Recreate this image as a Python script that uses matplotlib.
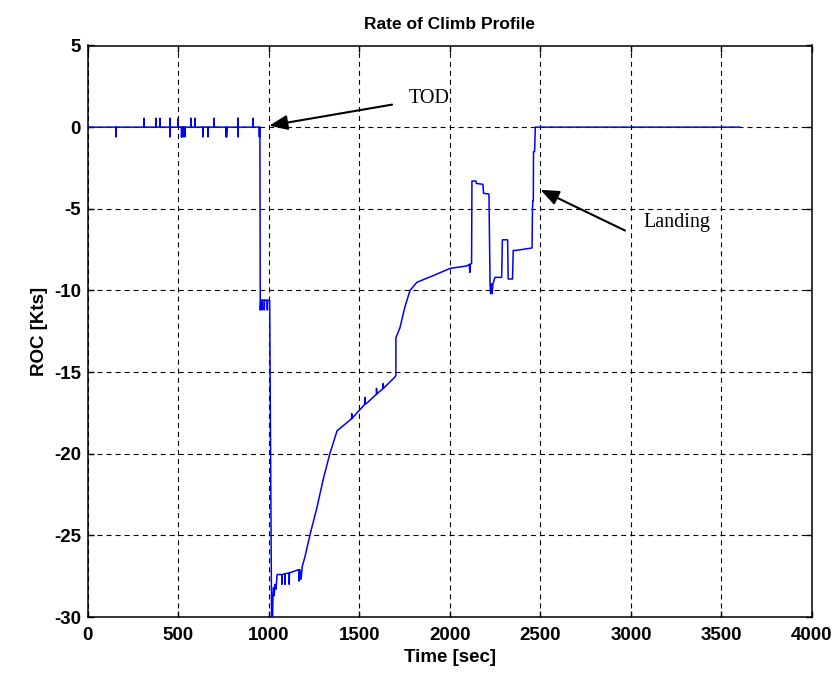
import matplotlib
matplotlib.use('Agg')
import matplotlib.pyplot as plt

plt.rcParams['lines.scale_dashes'] = False
plt.rcParams['axes.unicode_minus'] = False

# ---- data ----
time_sec = [
    0, 156, 156, 157, 311, 311, 312, 377, 377, 378, 399, 399, 400,
    454, 454, 455, 456, 499, 499, 500, 517, 518, 521, 521, 523, 529, 529, 531,
    537, 537, 539, 570, 570, 571, 593, 593, 594, 637, 637, 638, 664, 664, 665,
    697, 697, 698, 764, 764, 767, 767, 768, 830, 830, 830, 831, 913, 913, 914,
    947, 948, 949, 951, 953, 956, 962, 962, 964, 975, 975, 977, 990, 992, 994,
    1005, 1008, 1016, 1020, 1023, 1026, 1030, 1034, 1040, 1046, 1072, 1072, 1073,
    1090, 1090, 1091, 1113, 1113, 1114, 1165, 1168, 1172, 1178, 1185, 1200, 1229,
    1266, 1300, 1338, 1377, 1458, 1458, 1459, 1487, 1532, 1532, 1533, 1542, 1595,
    1595, 1596, 1631, 1632, 1633, 1697, 1702, 1702, 1724, 1752, 1780, 1818, 1907,
    2001, 2094, 2108, 2110, 2112, 2120, 2122, 2144, 2146, 2183, 2186, 2216, 2222,
    2225, 2230, 2234, 2238, 2249, 2286, 2290, 2319, 2322, 2346, 2350, 2365, 2454,
    2456, 2458, 2461, 2462, 2468, 2472, 3600]
roc_kts = [
    0, 0, -0.6, 0, 0, 0.55, 0, 0, 0.55, 0, 0, 0.55, 0,
    0, -0.6, 0.55, 0, 0, 0.55, 0, 0, -0.6, 0, -0.6, 0, 0, -0.6, 0,
    0, -0.6, 0, 0, 0.55, 0, 0, 0.55, 0, 0, -0.6, 0, 0, -0.6, 0,
    0, 0.55, 0, 0, -0.6, 0, -0.6, 0, 0, 0.55, -0.6, 0, 0, 0.55, 0,
    0, -0.6, 0, 0, -11.2, -10.6, -10.6, -11.2, -10.6, -10.6, -11.2, -10.6, -10.6, -11.2, -10.6,
    -10.6, -16.0, -31.0, -31.0, -28.7, -28.2, -28.7, -28.0, -28.3, -27.4, -27.4, -28.0, -27.4,
    -27.35, -28.0, -27.35, -27.3, -28.0, -27.3, -27.1, -27.8, -27.1, -27.7, -26.9, -26.3, -24.9,
    -23.3, -21.6, -19.97, -18.6, -17.85, -17.55, -17.85, -17.5, -16.95, -16.55, -16.95, -16.9, -16.35,
    -16.0, -16.35, -16.0, -15.7, -16.0, -15.3, -15.2, -12.9, -12.3, -11.0, -10.0, -9.5, -9.1,
    -8.65, -8.5, -8.4, -8.9, -8.4, -8.35, -3.3, -3.3, -3.45, -3.5, -4.05, -4.1, -9.6,
    -10.2, -9.6, -10.2, -9.6, -9.2, -9.2, -6.9, -6.9, -9.3, -9.3, -7.55, -7.55, -7.4,
    -5.3, -4.5, -4.5, -1.5, -1.5, 0, 0]

x_ticks = [0, 500, 1000, 1500, 2000, 2500, 3000, 3500, 4000]
y_ticks = [-30, -25, -20, -15, -10, -5, 0, 5]

chart_title = 'Rate of Climb Profile'
x_label = 'Time [sec]'
y_label = 'ROC [Kts]'

tod_label = 'TOD'
tod_text_pos = (1771, 1.46)
tod_tail = (1681, 1.38)
tod_head = (1003, 0.09)

landing_label = 'Landing'
landing_text_pos = (3067, -6.13)
landing_tail = (2967, -6.33)
landing_head = (2501, -3.84)

# ---- figure ----
W, H = 839, 679
fig = plt.figure(figsize=(W / 100, H / 100), dpi=100)
left, right, top, bottom = 87.7, 812.0, 45.5, 617.0
ax = fig.add_axes([left / W, 1 - bottom / H, (right - left) / W, (bottom - top) / H])

ax.plot(time_sec, roc_kts, color='#0000ff', lw=1.1, zorder=3)
ax.set_xlim(0, 4000)
ax.set_ylim(-30, 5)
ax.set_xticks(x_ticks)
ax.set_yticks(y_ticks)

ax.grid(True, color='black', linestyle=(0, (3.6, 2.9)), linewidth=0.8, zorder=1)
for s in ax.spines.values():
    s.set_linewidth(1.1)
ax.tick_params(direction='in', length=4.5, width=1.0, top=True, right=True,
               labelsize=13.5, pad=5)
ax.tick_params(axis='x', pad=7)
for lab in ax.get_xticklabels() + ax.get_yticklabels():
    lab.set_fontweight('bold')
    lab.set_family(['Liberation Sans', 'DejaVu Sans'])

ax.set_title(chart_title, fontsize=12.5, fontweight='bold',
             family=['Liberation Sans', 'DejaVu Sans'], pad=12)
ax.set_xlabel(x_label, fontsize=13.5, fontweight='bold',
              family=['Liberation Sans', 'DejaVu Sans'], labelpad=4)
ax.set_ylabel(y_label, fontsize=13.5, fontweight='bold',
              family=['Liberation Sans', 'DejaVu Sans'], labelpad=4)

arrow_props = dict(arrowstyle='-|>,head_length=1.1,head_width=0.45',
                   color='black', lw=1.5, shrinkA=0, shrinkB=0, mutation_scale=10)
ax.annotate('', xy=tod_head, xytext=tod_tail, arrowprops=arrow_props, zorder=4)
ax.annotate('', xy=landing_head, xytext=landing_tail, arrowprops=arrow_props, zorder=4)
ax.text(*tod_text_pos, tod_label, fontsize=14.5, va='baseline', ha='left',
        family=['Liberation Serif', 'DejaVu Serif'])
ax.text(*landing_text_pos, landing_label, fontsize=14.5, va='baseline', ha='left',
        family=['Liberation Serif', 'DejaVu Serif'])

fig.savefig('out.png', dpi=100, facecolor='white')
